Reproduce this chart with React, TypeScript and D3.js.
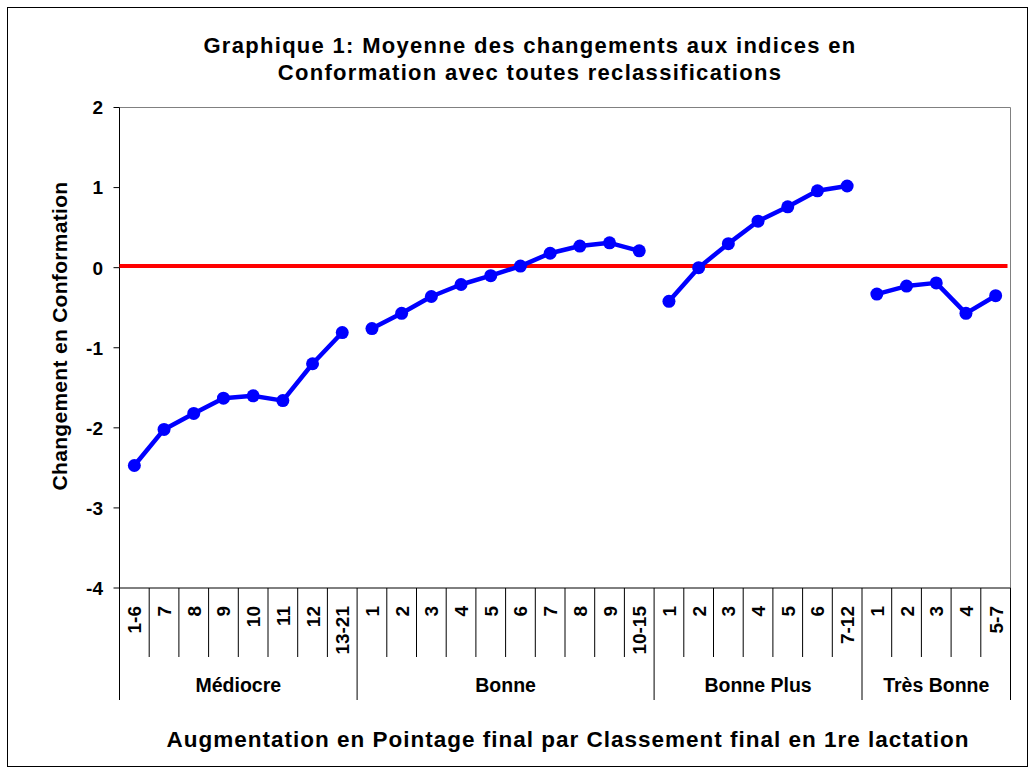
import { useMemo } from "react";
import * as d3 from "d3";

const groups = ["Médiocre", "Bonne", "Bonne Plus", "Très Bonne"];

const mediocreLabels = ["1-6", "7", "8", "9", "10", "11", "12", "13-21"];
const bonneLabels = ["1", "2", "3", "4", "5", "6", "7", "8", "9", "10-15"];
const bonnePlusLabels = ["1", "2", "3", "4", "5", "6", "7-12"];
const tresBonneLabels = ["1", "2", "3", "4", "5-7"];

const mediocreValues = [-2.47, -2.02, -1.82, -1.63, -1.6, -1.66, -1.2, -0.81];
const bonneValues = [-0.76, -0.57, -0.36, -0.21, -0.1, 0.02, 0.18, 0.27, 0.31, 0.21];
const bonnePlusValues = [-0.42, 0.0, 0.3, 0.58, 0.76, 0.96, 1.02];
const tresBonneValues = [-0.33, -0.23, -0.19, -0.57, -0.35];

const yTicks = [2, 1, 0, -1, -2, -3, -4];
const referenceLevel = 0.02;

const TITLE = ["Graphique 1: Moyenne des changements aux indices en", "Conformation avec toutes reclassifications"];
const Y_TITLE = "Changement en Conformation";
const X_TITLE = "Augmentation en Pointage final par Classement final en 1re lactation";

const W = 1035;
const H = 775;
const PLOT = { left: 119.5, right: 1010.5, top: 107.5, bottom: 588 };
const FONT = "'Liberation Sans', Arial, Helvetica, sans-serif";
const BLUE = "#0000ff";
const RED = "#ff0000";

type Point = { key: string; group: string; label: string; value: number };

export default function App() {
  const labelSets = [mediocreLabels, bonneLabels, bonnePlusLabels, tresBonneLabels];
  const valueSets = [mediocreValues, bonneValues, bonnePlusValues, tresBonneValues];

  const series: Point[][] = useMemo(
    () =>
      groups.map((g, gi) =>
        labelSets[gi].map((label, i) => ({ key: `${g}|${label}`, group: g, label, value: valueSets[gi][i] })),
      ),
    [],
  );
  const all = series.flat();

  const x = d3
    .scaleBand<string>()
    .domain(all.map((d) => d.key))
    .range([PLOT.left, PLOT.right])
    .padding(0);
  const y = d3.scaleLinear().domain([-4, 2]).range([PLOT.bottom, PLOT.top]);
  const bw = x.bandwidth();
  const cx = (d: Point) => (x(d.key) ?? 0) + bw / 2;

  const line = d3
    .line<Point>()
    .x(cx)
    .y((d) => y(d.value));

  const catBottom = 657;
  const groupBottom = 700;

  return (
    <svg width={W} height={H} style={{ position: "absolute", left: 0, top: 0, background: "#fff" }} fontFamily={FONT}>
      <rect x={7.5} y={7.5} width={1020} height={759} fill="#fff" stroke="#000" strokeWidth={1} />

      {TITLE.map((t, i) => (
        <text key={t} x={530} y={53 + i * 27} textAnchor="middle" fontSize={22} fontWeight="bold" letterSpacing={1.3}>
          {t}
        </text>
      ))}

      {/* plot frame */}
      <line x1={PLOT.left} x2={PLOT.right} y1={PLOT.top} y2={PLOT.top} stroke="#808080" />
      <line x1={PLOT.right} x2={PLOT.right} y1={PLOT.top} y2={PLOT.bottom} stroke="#808080" />

      {/* y axis */}
      <line x1={PLOT.left} x2={PLOT.left} y1={PLOT.top} y2={PLOT.bottom} stroke="#000" />
      {yTicks.map((t) => (
        <g key={t}>
          <line x1={PLOT.left - 6} x2={PLOT.left} y1={y(t)} y2={y(t)} stroke="#000" />
          <text x={103} y={y(t)} dy="0.36em" textAnchor="end" fontSize={19} fontWeight="bold">
            {t}
          </text>
        </g>
      ))}
      <text
        transform={`translate(67,336) rotate(-90)`}
        textAnchor="middle"
        fontSize={21}
        fontWeight="bold"
        letterSpacing={0.3}
      >
        {Y_TITLE}
      </text>

      {/* x axis */}
      <line x1={PLOT.left} x2={PLOT.right} y1={PLOT.bottom} y2={PLOT.bottom} stroke="#000" />
      {all.map((d, i) => {
        const isGroupEdge = i === 0 || d.label === labelSets[groups.indexOf(d.group)][0];
        const xl = x(d.key) ?? 0;
        return (
          <g key={d.key}>
            <line
              x1={xl}
              x2={xl}
              y1={PLOT.bottom}
              y2={isGroupEdge ? groupBottom : catBottom}
              stroke="#000"
            />
            <text
              transform={`translate(${cx(d) + 7},606) rotate(-90)`}
              textAnchor="end"
              fontSize={19}
              fontWeight="bold"
            >
              {d.label}
            </text>
          </g>
        );
      })}
      <line x1={PLOT.right} x2={PLOT.right} y1={PLOT.bottom} y2={groupBottom} stroke="#000" />
      {series.map((s) => {
        const x0 = x(s[0].key) ?? 0;
        const x1 = (x(s[s.length - 1].key) ?? 0) + bw;
        return (
          <text key={s[0].group} x={(x0 + x1) / 2} y={692} textAnchor="middle" fontSize={19.5} fontWeight="bold">
            {s[0].group}
          </text>
        );
      })}
      <text x={568} y={747} textAnchor="middle" fontSize={22.5} fontWeight="bold" letterSpacing={1}>
        {X_TITLE}
      </text>

      {/* reference line at zero */}
      <line
        x1={PLOT.left}
        x2={PLOT.right - 3}
        y1={y(referenceLevel)}
        y2={y(referenceLevel)}
        stroke={RED}
        strokeWidth={4}
      />

      {/* series */}
      {series.map((s) => (
        <g key={s[0].group}>
          <path d={line(s) ?? ""} fill="none" stroke={BLUE} strokeWidth={4.5} strokeLinejoin="round" />
          {s.map((d) => (
            <circle key={d.key} cx={cx(d)} cy={y(d.value)} r={6.5} fill={BLUE} />
          ))}
        </g>
      ))}
    </svg>
  );
}
